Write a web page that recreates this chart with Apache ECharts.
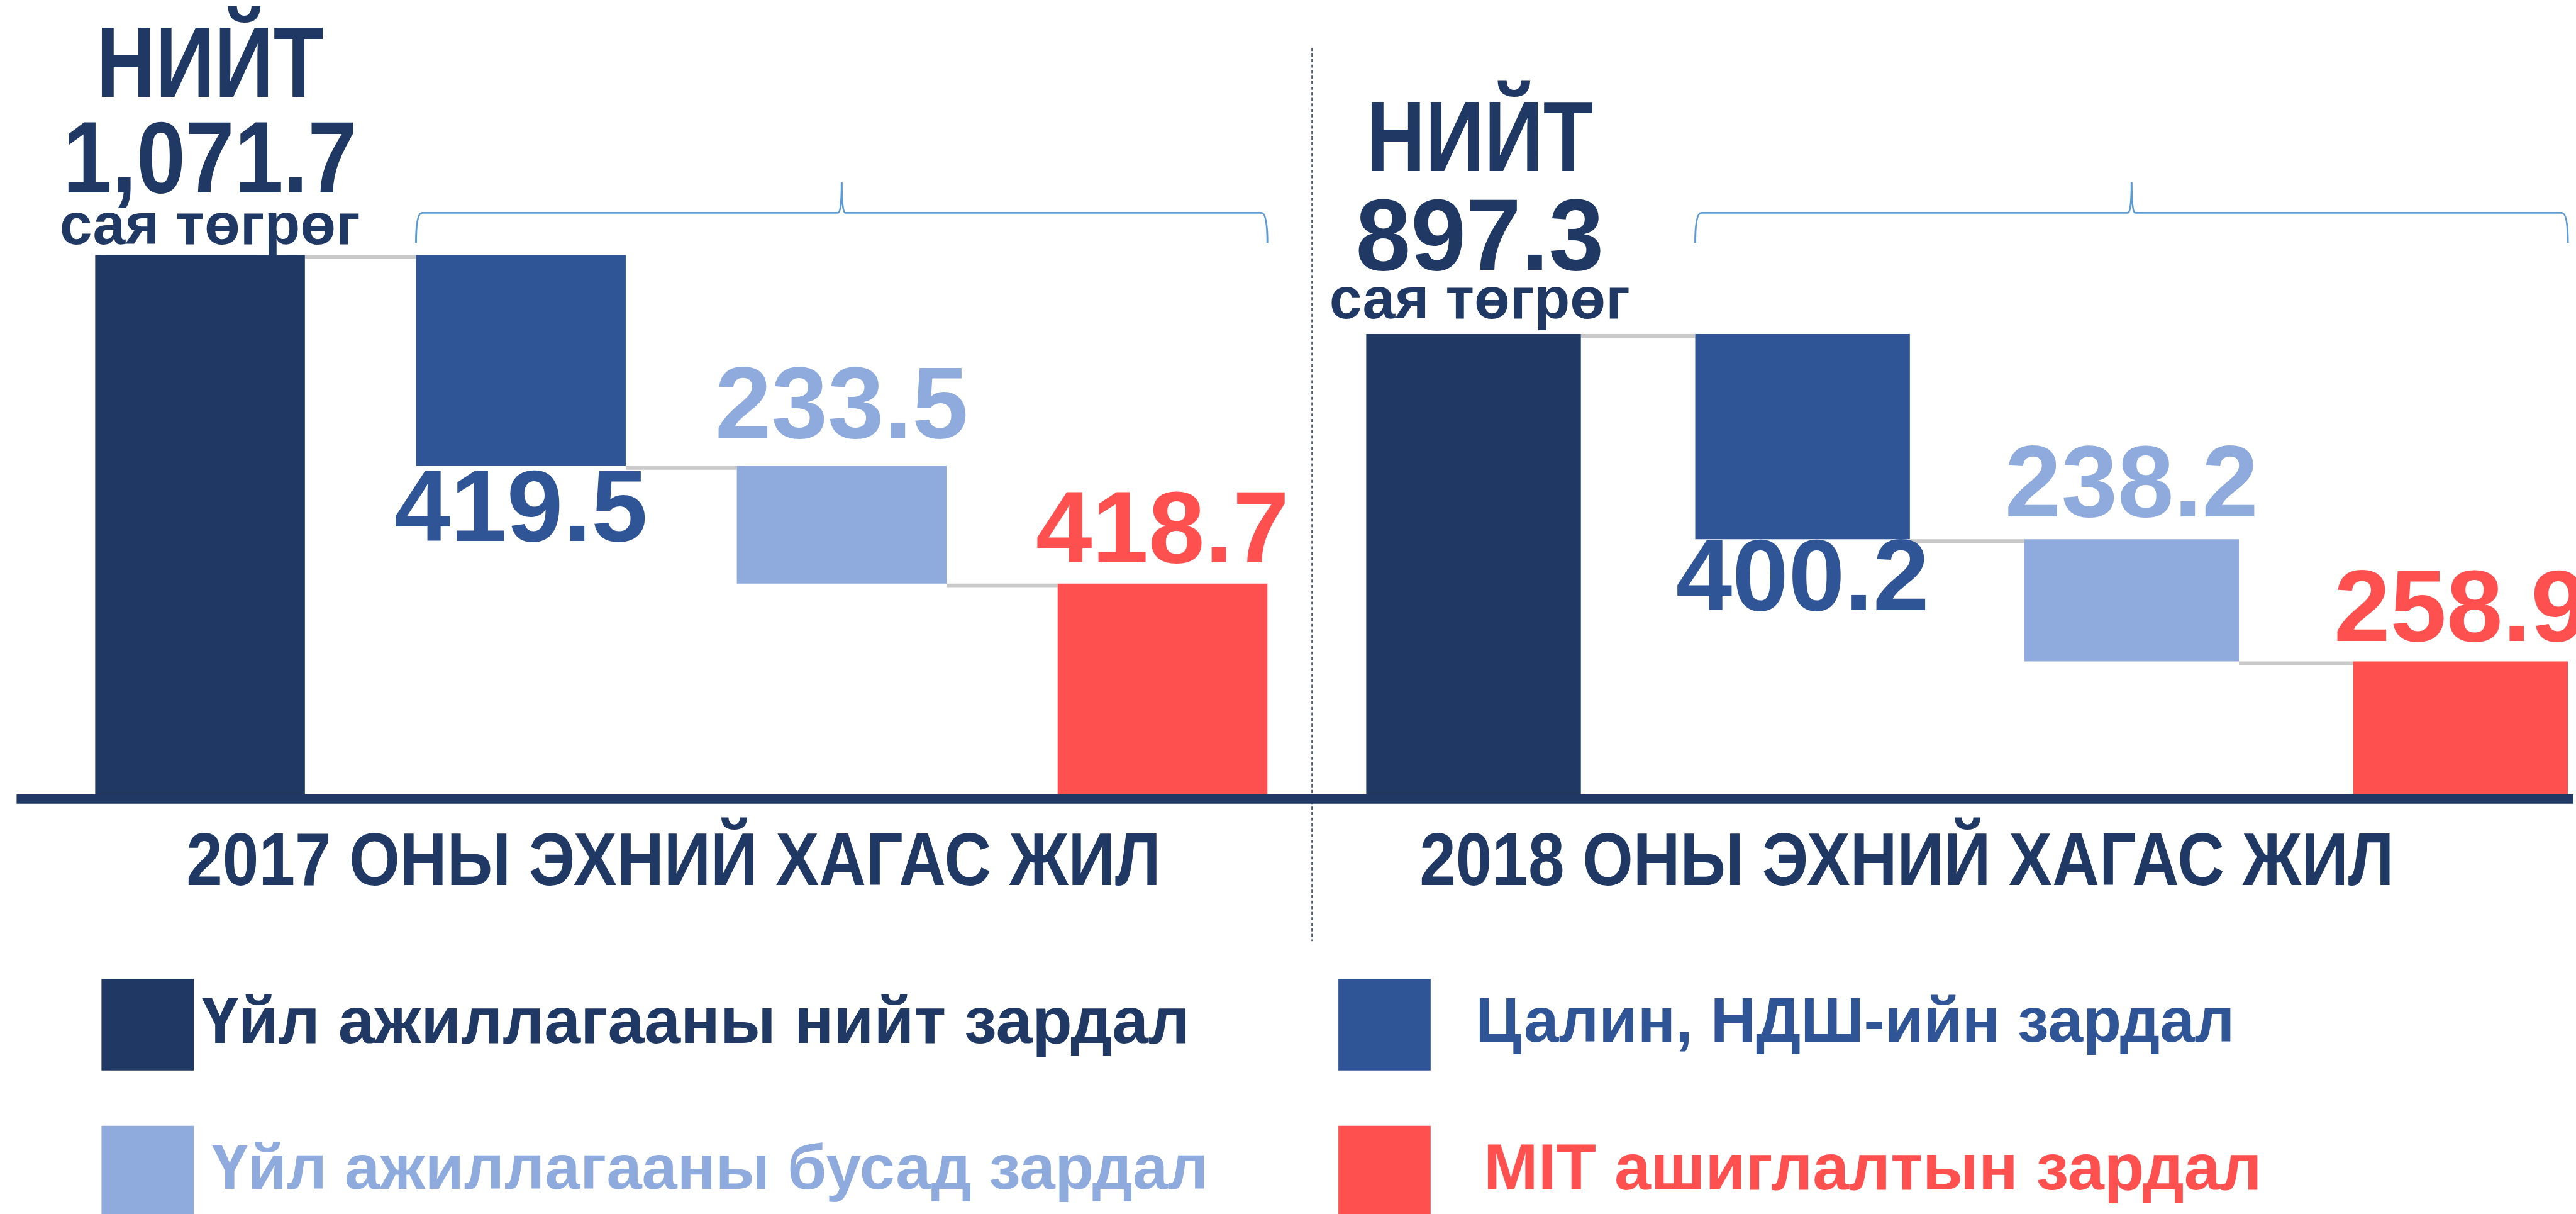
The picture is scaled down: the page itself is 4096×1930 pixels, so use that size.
<!DOCTYPE html>
<html>
<head>
<meta charset="utf-8">
<script src="https://cdn.jsdelivr.net/npm/echarts@6/dist/echarts.min.js"></script>
<style>
html, body { margin: 0; padding: 0; background: #ffffff; }
#chart { width: 4096px; height: 1930px; }
</style>
</head>
<body>
<div id="chart"></div>
<script>
// өгөгдөл
var categories = ['Нийт', 'Цалин', 'Бусад', 'МIТ'];
var periods = ['2017 ОНЫ ЭХНИЙ ХАГАС ЖИЛ', '2018 ОНЫ ЭХНИЙ ХАГАС ЖИЛ'];
var totals = [1071.7, 897.3];
var salary = [419.5, 400.2];
var other = [233.5, 238.2];
var mit = [418.7, 258.9];
var seriesNames = ['Үйл ажиллагааны нийт зардал', 'Цалин, НДШ-ийн зардал', 'Үйл ажиллагааны бусад зардал', 'МIТ ашиглалтын зардал'];
var colors = ['#203864', '#2F5597', '#8FAADC', '#FF5050'];

var S = 0.978;
var FONT = "'Liberation Sans', Arial, sans-serif";

// panel layout in reference pixels
var panels = [
    {left: 325.25, width: 1564.8, top: 414.5, barW: 341, numScale: 0.87, totalOff: 16,
     up: [245.5, 89.5, 11.5], dist: [0, 15, 30, 18.8], titleX: 1095},
    {left: 2395.75, width: 1604.7, top: 543, barW: 349, numScale: 0.98, totalOff: 10,
     up: [253, 93, 19], dist: [0, 8.3, 21.2, 17.3], titleX: 3100}
];
var baseY = 1291;

var grids = [], xAxes = [], yAxes = [], series = [], graphics = [];

panels.forEach(function (pn, p) {
    grids.push({left: pn.left * S, width: pn.width * S, top: pn.top * S, height: (baseY - pn.top) * S});
    xAxes.push({type: 'category', gridIndex: p, data: categories, boundaryGap: false,
        axisLine: {show: false}, axisTick: {show: false}, axisLabel: {show: false}, splitLine: {show: false}});
    yAxes.push({type: 'value', gridIndex: p, min: 0, max: totals[p], show: false, splitLine: {show: false}});

    var vals = [totals[p], salary[p], other[p], mit[p]];
    var helper = [0, totals[p] - salary[p], totals[p] - salary[p] - other[p], 0];
    var bw = pn.barW * S;

    series.push({
        type: 'bar', name: '', xAxisIndex: p, yAxisIndex: p, stack: 'w' + p, clip: false,
        barWidth: bw, silent: true, itemStyle: {color: 'transparent'}, data: helper
    });

    vals.forEach(function (v, k) {
        var label = {show: false};
        if (k > 0) {
            label = {
                show: true, position: k === 1 ? 'bottom' : 'top', distance: pn.dist[k] * S,
                fontFamily: FONT, fontWeight: 'bold', fontSize: 161, lineHeight: 120,
                color: colors[k],
                formatter: function (prm) { return prm.value.toFixed(1); }
            };
        }
        series.push({
            type: 'bar', name: seriesNames[k], xAxisIndex: p, yAxisIndex: p, stack: 'w' + p, clip: false,
            barWidth: bw, itemStyle: {color: colors[k]}, label: label,
            data: categories.map(function (c, i) { return i === k ? v : '-'; })
        });
    });

    // total label block above first bar
    series.push({
        type: 'custom', xAxisIndex: p, yAxisIndex: p, silent: true, clip: false, z: 4,
        data: [[0, totals[p]]],
        renderItem: function (params, api) {
            var pt = api.coord([api.value(0), api.value(1)]);
            var x = pt[0] + pn.totalOff * S;
            var num = api.value(1).toLocaleString('en-US', {minimumFractionDigits: 1});
            var lines = [['НИЙТ', 159, 0.82], [num, 161, pn.numScale], ['сая төгрөг', 93, 1]];
            return {
                type: 'group',
                children: lines.map(function (ln, i) {
                    return {
                        type: 'text', x: x, y: pt[1] - pn.up[i] * S - 0.3465 * ln[1], scaleX: ln[2],
                        style: {text: ln[0], font: 'bold ' + ln[1] + 'px ' + FONT, fill: colors[0],
                            align: 'center', verticalAlign: 'middle'}
                    };
                })
            };
        }
    });

    // connector lines between bars
    var levels = [totals[p], totals[p] - salary[p], totals[p] - salary[p] - other[p]];
    series.push({
        type: 'custom', xAxisIndex: p, yAxisIndex: p, silent: true, z: 1,
        data: levels.map(function (lv, i) { return [i, lv]; }),
        renderItem: function (params, api) {
            var a = api.coord([api.value(0), api.value(1)]);
            var b = api.coord([api.value(0) + 1, api.value(1)]);
            return {
                type: 'line',
                shape: {x1: a[0] + bw / 2, y1: a[1] + 3 * S, x2: b[0] - bw / 2, y2: b[1] + 3 * S},
                style: {stroke: '#C9C9C9', lineWidth: 6 * S}
            };
        }
    });

    // brace over the three component bars
    series.push({
        type: 'custom', xAxisIndex: p, yAxisIndex: p, silent: true, clip: false,
        data: [[1, 3]],
        renderItem: function (params, api) {
            var x0 = api.coord([api.value(0), 0])[0] - bw / 2;
            var x1 = api.coord([api.value(1), 0])[0] + bw / 2;
            var xm = (x0 + x1) / 2;
            var yl = 346 * S, yb = 395 * S, yt = 296 * S, r = 10 * S;
            var path = 'M' + x0 + ' ' + yb + ' Q' + x0 + ' ' + yl + ' ' + (x0 + r) + ' ' + yl +
                ' L' + (xm - 6 * S) + ' ' + yl + ' Q' + xm + ' ' + yl + ' ' + xm + ' ' + yt +
                ' Q' + xm + ' ' + yl + ' ' + (xm + 6 * S) + ' ' + yl +
                ' L' + (x1 - r) + ' ' + yl + ' Q' + x1 + ' ' + yl + ' ' + x1 + ' ' + yb;
            return {
                type: 'path', shape: {pathData: path},
                style: {stroke: '#5B9BD5', lineWidth: 3 * S, fill: 'none'}
            };
        }
    });

    graphics.push({
        type: 'text', x: pn.titleX * S, y: 1405.5 * S, z: 10, scaleX: 0.87,
        style: {text: periods[p], fill: colors[0], font: 'bold 119px ' + FONT, align: 'center', verticalAlign: 'middle'}
    });
});

// baseline and separator
graphics.push({type: 'rect', shape: {x: 27 * S, y: 1291.5 * S, width: (4184 - 27) * S, height: 15 * S}, style: {fill: '#203864'}, z: 5});
graphics.push({type: 'line', shape: {x1: 2133 * S, y1: 78 * S, x2: 2133 * S, y2: 1530 * S},
    style: {stroke: '#203864', lineWidth: 1.5, lineDash: [5 * S, 4 * S]}, z: 6});

// legend blocks: [left, top, text gap, font size]
var legendPos = [[165, 1591, 13, 104], [2176, 1591, 73, 100], [165, 1830, 30, 101], [2176, 1830, 86, 104]];
var legends = seriesNames.map(function (nm, k) {
    return {
        left: legendPos[k][0] * S, top: legendPos[k][1] * S, padding: 0,
        itemWidth: 150 * S, itemHeight: 149 * S, icon: 'rect', selectedMode: false,
        data: [{name: nm, textStyle: {color: colors[k]}}],
        textStyle: {fontFamily: FONT, fontWeight: 'bold', fontSize: legendPos[k][3], padding: [0, 0, 0, (legendPos[k][2] - 5) * S]}
    };
});

var myChart = echarts.init(document.getElementById('chart'));
var option = {
    animation: false,
    backgroundColor: '#ffffff',
    grid: grids,
    xAxis: xAxes,
    yAxis: yAxes,
    legend: legends,
    series: series,
    graphic: graphics
};
myChart.setOption(option);
</script>
</body>
</html>
